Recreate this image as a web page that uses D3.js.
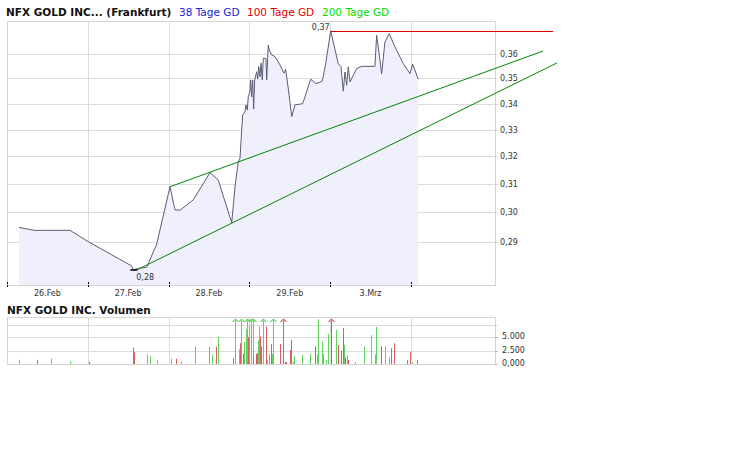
<!DOCTYPE html>
<html>
<head>
<meta charset="utf-8">
<script src="https://cdn.jsdelivr.net/npm/d3@7"></script>
<style>
  body { margin: 0; background: #fff; }
  svg { display: block; font-family: "DejaVu Sans", Verdana, sans-serif; }
</style>
</head>
<body>
<svg width="738" height="475"></svg>
<script>
// day index: 0 = start of 26.Feb, 1 = 27.Feb, ... 4 = 3.Mrz
var dayTicks = [0, 1, 2, 3, 4, 5];
var dayLabels = ['26.Feb', '27.Feb', '28.Feb', '29.Feb', '3.Mrz'];

var priceDays = [0.149, 0.338, 0.780, 1.006, 1.543, 1.563, 1.605, 1.729, 1.853, 2.017,
  2.079, 2.141, 2.306, 2.512, 2.615, 2.781, 2.822, 2.863, 2.884, 2.905,
  2.917, 2.946, 2.958, 2.974, 2.986, 3.007, 3.016, 3.028, 3.041, 3.053,
  3.066, 3.090, 3.103, 3.115, 3.131, 3.144, 3.160, 3.172, 3.205, 3.214,
  3.234, 3.246, 3.276, 3.317, 3.379, 3.428, 3.449, 3.481, 3.524, 3.564,
  3.660, 3.759, 3.824, 3.902, 3.944, 4.006, 4.100, 4.134, 4.162, 4.183,
  4.204, 4.224, 4.245, 4.328, 4.390, 4.554, 4.575, 4.608, 4.637, 4.678,
  4.731, 4.802, 4.905, 4.988, 5.021, 5.090];
var priceValues = [0.2949, 0.2939, 0.2939, 0.2901, 0.2821, 0.2808, 0.2812, 0.2817, 0.2893, 0.3090,
  0.3009, 0.3008, 0.3044, 0.3141, 0.3114, 0.2965, 0.3090, 0.3181, 0.3193, 0.3299,
  0.3356, 0.3369, 0.3395, 0.3375, 0.3427, 0.3447, 0.3494, 0.3427, 0.3494, 0.3379,
  0.3494, 0.3527, 0.3497, 0.3548, 0.3507, 0.3562, 0.3494, 0.3582, 0.3582, 0.3494,
  0.3637, 0.3617, 0.3596, 0.3589, 0.3555, 0.3521, 0.3537, 0.3461, 0.3350, 0.3395,
  0.3400, 0.3497, 0.3479, 0.3489, 0.3558, 0.3697, 0.3560, 0.3547, 0.3449, 0.3526,
  0.3473, 0.3547, 0.3486, 0.3540, 0.3549, 0.3549, 0.3678, 0.3595, 0.3519, 0.3650,
  0.3685, 0.3629, 0.3560, 0.3519, 0.3558, 0.3497];
var priceTicks = [0.29, 0.30, 0.31, 0.32, 0.33, 0.34, 0.35, 0.36];

// trend lines (day, price)
var upperTrendDays = [2.017, 6.634];
var upperTrendValues = [0.3090, 0.3612];
var lowerTrendDays = [1.605, 6.807];
var lowerTrendValues = [0.2808, 0.3563];
var resistanceEndDay = 6.76;

// volume, 1 = up (green), 0 = down (red)
var volDays = [0.152, 0.375, 0.548, 0.783, 1.019, 1.556, 1.575, 1.729, 1.773, 1.853,
  2.026, 2.088, 2.150, 2.323, 2.496, 2.533, 2.583, 2.608, 2.793, 2.825,
  2.868, 2.880, 2.900, 2.924, 2.937, 2.962, 2.974, 2.986, 2.999, 3.016,
  3.041, 3.048, 3.078, 3.090, 3.103, 3.115, 3.135, 3.147, 3.172, 3.205,
  3.222, 3.239, 3.271, 3.283, 3.296, 3.382, 3.420, 3.444, 3.457, 3.506,
  3.519, 3.543, 3.556, 3.655, 3.754, 3.816, 3.840, 3.853, 3.902, 3.915,
  3.952, 3.976, 4.014, 4.075, 4.100, 4.137, 4.162, 4.175, 4.187, 4.212,
  4.224, 4.311, 4.422, 4.509, 4.558, 4.571, 4.632, 4.682, 4.731, 4.756,
  4.793, 4.954, 4.991, 5.016, 5.078];
var volValues = [800, 800, 1000, 500, 430, 3040, 2160, 1790, 1550, 670,
  990, 990, 490, 3230, 3230, 1790, 3230, 5090, 1100, 12000,
  2760, 3860, 15000, 1870, 4100, 6470, 10500, 4980, 7090, 9800,
  11000, 1490, 1870, 1990, 4350, 6970, 5100, 3230, 9500, 6970,
  750, 1870, 3730, 1870, 10000, 3730, 9200, 370, 370, 2610,
  4480, 370, 1490, 1680, 1870, 3230, 1870, 8340, 4100, 1870,
  750, 5600, 9600, 6340, 3540, 2490, 6720, 3540, 1240, 1490,
  750, 370, 3300, 5350, 1800, 6900, 3300, 3300, 1240, 2930,
  3860, 690, 2180, 310, 690];
var volUp = [1, 0, 1, 1, 0, 0, 0, 1, 1, 1,
  1, 0, 1, 1, 1, 1, 0, 1, 0, 1,
  1, 0, 1, 0, 1, 1, 1, 0, 1, 1,
  1, 0, 0, 0, 1, 1, 0, 0, 1, 0,
  1, 1, 0, 1, 1, 0, 0, 0, 0, 0,
  0, 1, 1, 1, 1, 0, 1, 1, 1, 1,
  1, 1, 0, 1, 0, 0, 0, 1, 0, 1,
  0, 1, 1, 1, 1, 1, 0, 1, 1, 0,
  0, 0, 0, 1, 0];
var volGrid = [2500, 5000, 7200];
var volTicks = [0, 2500, 5000];
var volTickLabels = ['0,000', '2.500', '5.000'];
var volMax = 8730;
var volCap = 8100;

var svg = d3.select('svg');
var de = d3.formatLocale({decimal: ',', thousands: '.', grouping: [3], currency: ['', '']});
var fmt = de.format('.2f');

var plotL = 7, plotR = 495, plotT = 21, plotB = 285;
var volT = 317, volB = 364;

var x = d3.scaleLinear().domain([0, 6.04]).range([plotL, plotR]);
var y = d3.scaleLog().domain([0.276, 0.3739]).range([plotB, plotT]);
var yv = d3.scaleLinear().domain([0, volMax]).range([volB, volT]);

var gridColor = '#dcdcdc';
var upColor = '#5ed35e', downColor = '#d95f5f';

// ---- titles
svg.append('text').attr('x', 6).attr('y', 16).style('font-size', '10.5px')
  .attr('font-weight', 'bold').attr('fill', '#111').text('NFX GOLD INC... (Frankfurt)');
var legend = [['38 Tage GD', '#2020e0', 179], ['100 Tage GD', '#e00000', 247], ['200 Tage GD', '#00dd00', 322]];
svg.selectAll('.lg').data(legend).enter().append('text')
  .attr('x', function(d) { return d[2]; }).attr('y', 16).style('font-size', '10.5px')
  .attr('fill', function(d) { return d[1]; })
  .text(function(d) { return d[0]; });

svg.append('text').attr('x', 7).attr('y', 314).style('font-size', '10.5px')
  .attr('font-weight', 'bold').attr('fill', '#111').text('NFX GOLD INC. Volumen');

// ---- main price grid
var main = svg.append('g');
main.selectAll('.hg').data(priceTicks).enter().append('line')
  .attr('x1', plotL).attr('x2', plotR + 3)
  .attr('y1', function(d) { return Math.round(y(d)) + 0.5; })
  .attr('y2', function(d) { return Math.round(y(d)) + 0.5; })
  .attr('stroke', gridColor);
main.selectAll('.vg').data(dayTicks.slice(1)).enter().append('line')
  .attr('x1', function(d) { return Math.round(x(d)) + 0.5; })
  .attr('x2', function(d) { return Math.round(x(d)) + 0.5; })
  .attr('y1', plotT).attr('y2', plotB)
  .attr('stroke', gridColor);

// area + line
var area = d3.area()
  .x(function(d, i) { return x(priceDays[i]); })
  .y0(plotB)
  .y1(function(d) { return y(d); });
var line = d3.line()
  .x(function(d, i) { return x(priceDays[i]); })
  .y(function(d) { return y(d); });
main.append('path').datum(priceValues).attr('d', area).attr('fill', '#f0f0fc');
main.append('path').datum(priceValues).attr('d', line)
  .attr('fill', 'none').attr('stroke', '#5c5c78').attr('stroke-width', 1);

// frame
main.append('rect').attr('x', plotL + 0.5).attr('y', plotT + 0.5)
  .attr('width', plotR - plotL).attr('height', plotB - plotT)
  .attr('fill', 'none').attr('stroke', '#d4d4d4');

// y labels (right side)
main.selectAll('.yl').data(priceTicks).enter().append('text')
  .attr('x', plotR + 5).attr('y', function(d) { return y(d) + 3; })
  .style('font-size', '8px').attr('fill', '#333')
  .text(function(d) { return fmt(d); });

// x axis ticks and labels
main.selectAll('.xt').data(dayTicks).enter().append('line')
  .attr('x1', function(d) { return Math.round(x(d)) + 0.5; })
  .attr('x2', function(d) { return Math.round(x(d)) + 0.5; })
  .attr('y1', plotB - 3).attr('y2', plotB + 3)
  .attr('stroke', '#000').attr('stroke-dasharray', '2,1');
main.selectAll('.xl').data(dayLabels).enter().append('text')
  .attr('x', function(d, i) { return x(i + 0.5); }).attr('y', 296)
  .attr('text-anchor', 'middle').style('font-size', '8px').attr('fill', '#333')
  .text(function(d) { return d; });

// trend lines
main.append('line')
  .attr('x1', x(upperTrendDays[0])).attr('y1', y(upperTrendValues[0]))
  .attr('x2', x(upperTrendDays[1])).attr('y2', y(upperTrendValues[1]))
  .attr('stroke', '#008800');
main.append('line')
  .attr('x1', x(lowerTrendDays[0])).attr('y1', y(lowerTrendValues[0]))
  .attr('x2', x(lowerTrendDays[1])).attr('y2', y(lowerTrendValues[1]))
  .attr('stroke', '#008800');

// max / min markers
var maxV = d3.max(priceValues), minV = d3.min(priceValues);
var maxDay = priceDays[priceValues.indexOf(maxV)];
var minDay = priceDays[priceValues.indexOf(minV)];
main.append('line')
  .attr('x1', x(maxDay)).attr('x2', x(resistanceEndDay))
  .attr('y1', Math.round(y(maxV)) + 0.5).attr('y2', Math.round(y(maxV)) + 0.5)
  .attr('stroke', '#dd0000');
main.append('text').attr('x', x(maxDay) - 1).attr('y', y(maxV) - 1)
  .attr('text-anchor', 'end').style('font-size', '8px').attr('fill', '#333')
  .text(fmt(maxV));
main.append('line')
  .attr('x1', x(minDay) - 3).attr('x2', x(minDay) + 4)
  .attr('y1', y(minV)).attr('y2', y(minV))
  .attr('stroke', '#000').attr('stroke-width', 1.5);
main.append('text').attr('x', x(minDay) + 3).attr('y', y(minV) + 10)
  .style('font-size', '8px').attr('fill', '#333')
  .text(fmt(minV));

// ---- volume panel
var vol = svg.append('g');
vol.selectAll('.vhg').data(volGrid).enter().append('line')
  .attr('x1', plotL).attr('x2', plotR + 3)
  .attr('y1', function(d) { return Math.round(yv(d)) + 0.5; })
  .attr('y2', function(d) { return Math.round(yv(d)) + 0.5; })
  .attr('stroke', gridColor);
vol.selectAll('.vvg').data(dayTicks.slice(1)).enter().append('line')
  .attr('x1', function(d) { return Math.round(x(d)) + 0.5; })
  .attr('x2', function(d) { return Math.round(x(d)) + 0.5; })
  .attr('y1', volT).attr('y2', volB)
  .attr('stroke', gridColor);
vol.append('rect').attr('x', plotL + 0.5).attr('y', volT + 0.5)
  .attr('width', plotR - plotL).attr('height', volB - volT)
  .attr('fill', 'none').attr('stroke', '#d4d4d4');

var volData = volValues.map(function(v, i) { return {day: volDays[i], v: v, up: volUp[i]}; });
var bars = vol.selectAll('.bar').data(volData).enter().append('g');
bars.append('rect')
  .attr('x', function(d) { return Math.round(x(d.day)); })
  .attr('width', 1)
  .attr('y', function(d) { return yv(d.v > volMax ? volCap : d.v); })
  .attr('height', function(d) { return volB - yv(d.v > volMax ? volCap : d.v); })
  .attr('fill', function(d) { return d.up ? upColor : downColor; });
bars.filter(function(d) { return d.v > volMax; }).append('path')
  .attr('d', function(d) {
    var cx = Math.round(x(d.day)) + 0.5, cy = yv(volCap);
    return 'M' + (cx - 3) + ',' + (cy + 1.5) + 'L' + cx + ',' + (cy - 1) + 'L' + (cx + 3) + ',' + (cy + 1.5);
  })
  .attr('fill', 'none').attr('stroke-width', 1.2)
  .attr('stroke', function(d) { return d.up ? upColor : downColor; });

vol.selectAll('.vtl').data(volTicks).enter().append('text')
  .attr('x', plotR + 7).attr('y', function(d) { return yv(d) + 2; })
  .style('font-size', '8px').attr('fill', '#333')
  .text(function(d, i) { return volTickLabels[i]; });
vol.selectAll('.vtk').data(volTicks).enter().append('line')
  .attr('x1', plotR).attr('x2', plotR + 3)
  .attr('y1', function(d) { return Math.round(yv(d)) + 0.5; })
  .attr('y2', function(d) { return Math.round(yv(d)) + 0.5; })
  .attr('stroke', '#bbb');
</script>
</body>
</html>
